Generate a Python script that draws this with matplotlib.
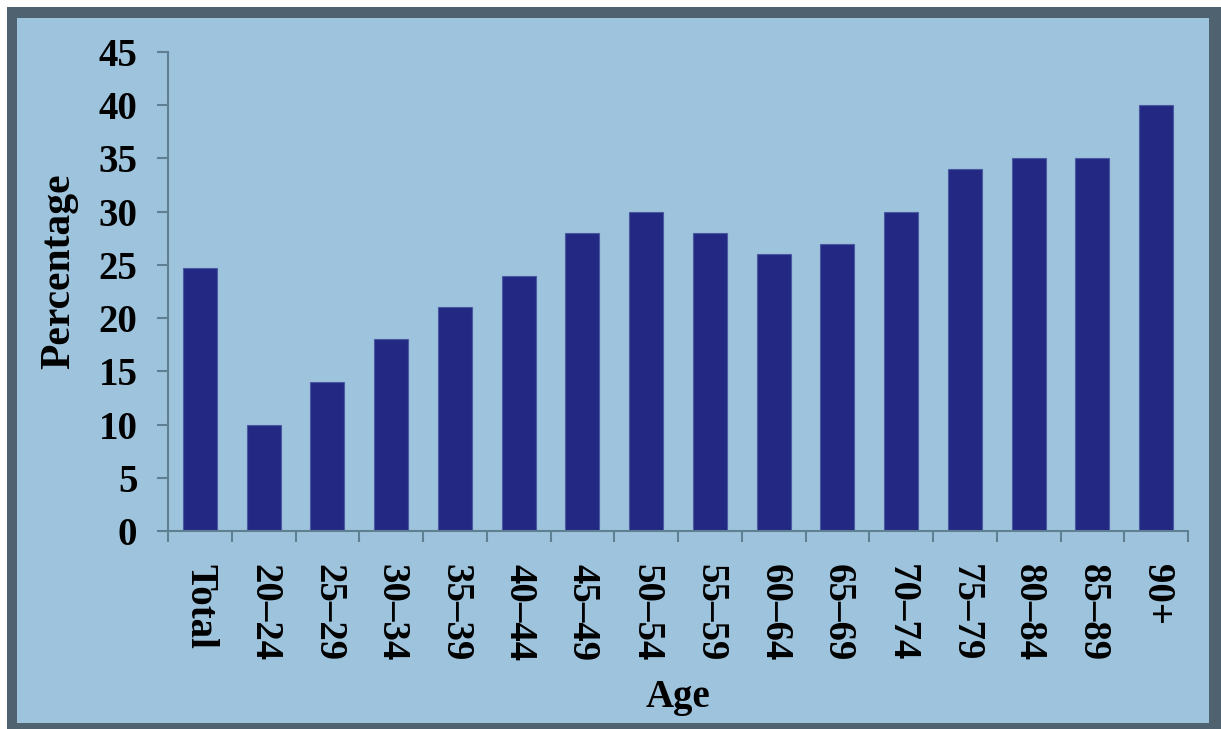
import matplotlib
matplotlib.use("Agg")
import matplotlib.pyplot as plt
from matplotlib.patches import Rectangle
import numpy as np

categories = ["Total", "20–24", "25–29", "30–34", "35–39", "40–44", "45–49", "50–54",
              "55–59", "60–64", "65–69", "70–74", "75–79", "80–84", "85–89", "90+"]
values = [24.7, 10, 14, 18, 21, 24, 28, 30, 28, 26, 27, 30, 34, 35, 35, 40]
yticks = [0, 5, 10, 15, 20, 25, 30, 35, 40, 45]

W, H = 1221, 729
DPI = 100
BG = "#9ec3dc"
BORDER = "#4f6270"
BAR = "#232883"
AXC = "#5f7f93"
FONT = "Liberation Serif"
FS = 28

fig = plt.figure(figsize=(W / DPI, H / DPI), dpi=DPI, facecolor="white")
# frame
fig.patches.append(Rectangle((7 / W, 0), 1 - 7 / W, 1 - 7 / H, transform=fig.transFigure,
                             facecolor=BORDER, edgecolor="none", zorder=-2))
fig.patches.append(Rectangle((17 / W, 6 / H), (1209 - 17) / W, (723 - 18) / H,
                             transform=fig.transFigure, facecolor=BG, edgecolor="none", zorder=-1))

ax = fig.add_axes([168 / W, (H - 531) / H, 1020 / W, 479 / H])
ax.set_facecolor("none")

x = np.arange(len(categories))
ax.bar(x, values, width=0.53, color=BAR, edgecolor="#4a5aa0", linewidth=0.8)

ax.set_xlim(-0.5, len(categories) - 0.5)
ax.set_ylim(0, 45)

for s in ["top", "right"]:
    ax.spines[s].set_visible(False)
for s in ["left", "bottom"]:
    ax.spines[s].set_color(AXC)
    ax.spines[s].set_linewidth(1.5)

ax.set_yticks(yticks)
ax.set_yticklabels([str(v) for v in yticks], fontfamily=FONT, fontweight="bold", fontsize=FS)
ax.tick_params(axis="y", direction="out", length=8, width=1.5, color=AXC, pad=14)

# boundaries as ticks, labels at centres
ax.set_xticks(np.arange(-0.5, len(categories)), minor=False)
ax.set_xticklabels([])
ax.tick_params(axis="x", which="major", direction="out", length=8, width=1.5, color=AXC)
ax.set_xticks(x, minor=True)
ax.set_xticklabels(categories, minor=True, fontfamily=FONT, fontweight="bold", fontsize=FS)
ax.tick_params(axis="x", which="minor", length=0, pad=24)
for lbl in ax.get_xticklabels(minor=True):
    lbl.set_rotation(270)
    lbl.set_va("top")
    lbl.set_ha("center")

fig.text(59 / W, 1 - 271 / H, "Percentage", rotation=90, ha="center", va="center",
         fontfamily=FONT, fontweight="bold", fontsize=FS + 2)
fig.text(678 / W, 1 - 697 / H, "Age", ha="center", va="center",
         fontfamily=FONT, fontweight="bold", fontsize=FS)

fig.savefig("out.png", dpi=DPI, facecolor=fig.get_facecolor())
